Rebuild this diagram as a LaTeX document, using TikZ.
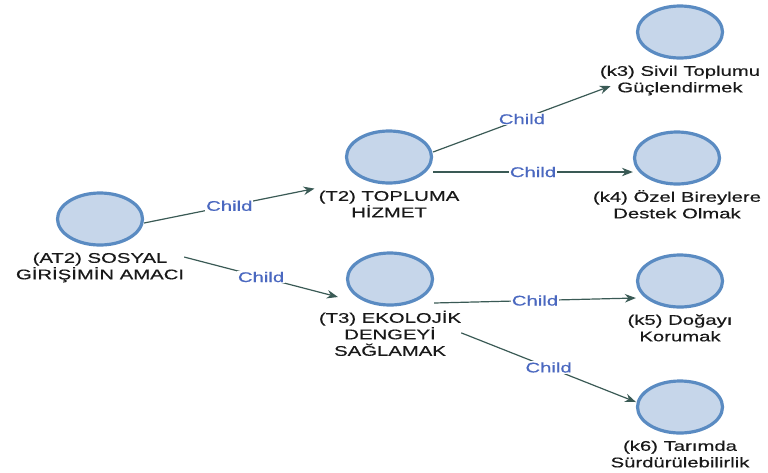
\documentclass[tikz,border=0pt]{standalone}
\usepackage{fontspec}
\setmainfont{Liberation Sans}
\newfontfamily\lab[FakeStretch=1.45,FakeBold=0.5]{Liberation Sans}
\usetikzlibrary{arrows.meta,shapes.geometric,calc}
\definecolor{nodefill}{HTML}{C6D6EA}
\definecolor{nodeline}{HTML}{5A8BC2}
\definecolor{edgecol}{HTML}{3A5A55}
\definecolor{childcol}{HTML}{4A68C0}
\begin{document}
\begin{tikzpicture}[x=1pt,y=-1pt,
  goal/.style={ellipse, draw=nodeline, fill=nodefill, line width=3.2pt,
    minimum width=85pt, minimum height=52pt, inner sep=0pt},
  goallabel/.style={anchor=north, inner sep=0pt, align=center,
    font=\lab\fontsize{14}{16.5}\selectfont, text=black!90},
  edge/.style={draw=edgecol, line width=1.2pt, -{Stealth[length=11pt,width=8.5pt]}},
  childlabel/.style={font=\lab\fontsize{14}{16.5}\selectfont, text=childcol,
    fill=white, inner sep=1pt}]
\useasboundingbox (0,0) rectangle (768,472);

% goal ellipses
\node[goal] (at2) at (100,219) {};
\node[goal] (t2)  at (389,157) {};
\node[goal] (t3)  at (390,279) {};
\node[goal] (k3)  at (680,32) {};
\node[goal] (k4)  at (677,158) {};
\node[goal] (k5)  at (680,281) {};
\node[goal] (k6)  at (680,407) {};

% labels
\node[goallabel] (at2l) at ([yshift=-3pt]at2.south) {\rule{0pt}{13pt}(AT2) SOSYAL\\GİRİŞİMİN AMACI};
\node[goallabel] (t2l)  at ([yshift=-3pt]t2.south)  {\rule{0pt}{13pt}(T2) TOPLUMA\\HİZMET};
\node[goallabel] (t3l)  at ([yshift=-3pt]t3.south)  {\rule{0pt}{13pt}(T3) EKOLOJİK\\DENGEYİ\\SAĞLAMAK};
\node[goallabel] (k3l)  at ([yshift=-3pt]k3.south)  {\rule{0pt}{13pt}(k3) Sivil Toplumu\\Güçlendirmek};
\node[goallabel] (k4l)  at ([yshift=-3pt]k4.south)  {\rule{0pt}{13pt}(k4) Özel Bireylere\\Destek Olmak};
\node[goallabel] (k5l)  at ([yshift=-3pt]k5.south)  {\rule{0pt}{13pt}(k5) Doğayı\\Korumak};
\node[goallabel] (k6l)  at ([yshift=-3pt]k6.south)  {\rule{0pt}{13pt}(k6) Tarımda\\Sürdürülebilirlik};

% connectors
\draw[edge] ([yshift=-4pt]at2.east) -- node[childlabel] (c1) {Child} ([xshift=-4pt,yshift=-1pt]t2l.north west);
\draw[edge] ([yshift=9pt]at2l.east) -- node[childlabel] (c2) {Child} ([xshift=-8pt,yshift=-18pt]t3.west);
\draw[edge] ([yshift=5pt]t2.east) -- node[childlabel] (c3) {Child} ([xshift=11pt,yshift=-7pt]k3l.west);
\draw[edge] ([yshift=-15pt]t2.east) -- node[childlabel] (c4) {Child} ([yshift=-14pt]k4.west);
\draw[edge] ([yshift=-24pt]t3.east) -- node[childlabel] (c5) {Child} ([yshift=-17pt]k5.west);
\draw[edge] (t3l.east) -- node[childlabel] (c6) {Child} ([yshift=5pt]k6.west);
\end{tikzpicture}
\end{document}
